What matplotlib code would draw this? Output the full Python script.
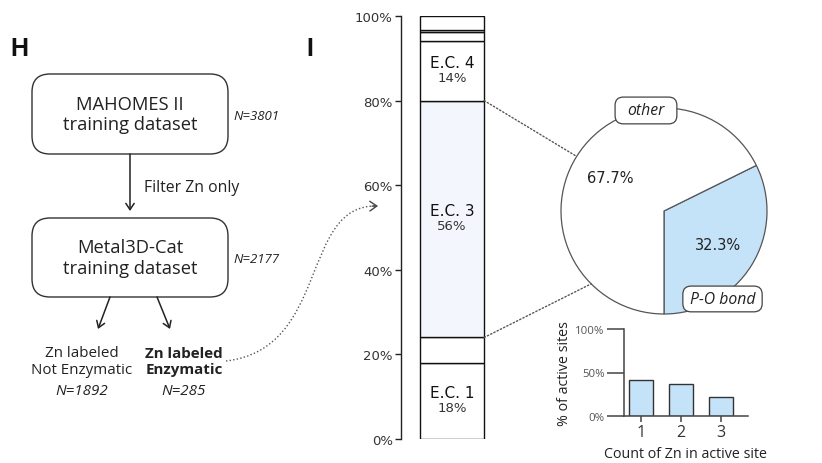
import matplotlib
matplotlib.use("Agg")
import numpy as np
import matplotlib.pyplot as plt
from matplotlib.patches import FancyBboxPatch, PathPatch, ConnectionPatch
from matplotlib.path import Path

# ---- data -------------------------------------------------------------
ec_classes = ["E.C. 1", "E.C. 2", "E.C. 3", "E.C. 4", "E.C. 5", "E.C. 6", "E.C. 7"]
ec_percent = [18, 6, 56, 14, 2.2, 0.6, 3.2]
ec_labeled = ["E.C. 1", "E.C. 3", "E.C. 4"]
pct_ticks = [0, 20, 40, 60, 80, 100]

pie_labels = ["P-O bond", "other"]
pie_values = [32.3, 67.7]

zn_counts = [1, 2, 3]
zn_site_pct = [41, 37, 22]
small_ticks = [0, 50, 100]

n_mahomes = 3801
n_metal3d = 2177
n_not_enzymatic = 1892
n_enzymatic = 285

# ---- styling ----------------------------------------------------------
W, H = 822, 464
BLUE = "#c4e2f8"
EC3_FILL = "#f3f7fd"
INK = "#222222"
SANS = ["Open Sans", "DejaVu Sans"]

fig = plt.figure(figsize=(W / 100, H / 100), dpi=100)
fig.patch.set_facecolor("white")


def px_axes(x0, y0, x1, y1):
    return fig.add_axes([x0 / W, 1 - y1 / H, (x1 - x0) / W, (y1 - y0) / H])


# overlay in pixel units for the flow diagram
ov = fig.add_axes([0, 0, 1, 1])
ov.set_xlim(0, W)
ov.set_ylim(H, 0)
ov.axis("off")

ov.text(10, 49, "H", fontsize=18, fontweight="bold", family="Liberation Sans",
        ha="left", va="center", color="#111")
ov.text(306, 49, "I", fontsize=18, fontweight="bold", family="Liberation Sans",
        ha="left", va="center", color="#111")


def flow_box(x, y, w, h, lines):
    ov.add_patch(FancyBboxPatch((x, y), w, h,
                                boxstyle="round,pad=0,rounding_size=18",
                                fc="white", ec="#333", lw=1.0))
    ov.text(x + w / 2, y + h / 2, lines, ha="center", va="center",
            fontsize=13.2, family=SANS, color=INK, linespacing=1.15)


flow_box(32, 75, 196, 80, "MAHOMES II\ntraining dataset")
flow_box(32, 219, 196, 79, "Metal3D-Cat\ntraining dataset")
ov.text(233, 116, f"N={n_mahomes}", fontsize=9.5, style="italic", family=SANS,
        ha="left", va="center", color=INK)
ov.text(233, 260, f"N={n_metal3d}", fontsize=9.5, style="italic", family=SANS,
        ha="left", va="center", color=INK)

arrow_kw = dict(arrowstyle="->,head_length=0.45,head_width=0.3", lw=1.1,
                color=INK, shrinkA=0, shrinkB=0)
ov.annotate("", xy=(130, 212), xytext=(130, 155), arrowprops=arrow_kw)
ov.text(144, 188, "Filter Zn only", fontsize=11.3, family=SANS, ha="left",
        va="center", color=INK)
ov.annotate("", xy=(98, 330), xytext=(110, 298), arrowprops=arrow_kw)
ov.annotate("", xy=(170, 330), xytext=(157, 298), arrowprops=arrow_kw)

ov.text(82, 362, "Zn labeled\nNot Enzymatic", fontsize=10.9, family=SANS,
        ha="center", va="center", color=INK, linespacing=1.12)
ov.text(82, 392, f"N={n_not_enzymatic}", fontsize=10.9, style="italic",
        family=SANS, ha="center", va="center", color=INK)
ov.text(184, 362, "Zn labeled\nEnzymatic", fontsize=10.9, fontweight="bold",
        family=SANS, ha="center", va="center", color=INK, linespacing=1.12)
ov.text(184, 392, f"N={n_enzymatic}", fontsize=10.9, style="italic",
        family=SANS, ha="center", va="center", color=INK)

# dotted S-curve from the enzymatic subset to the E.C. breakdown
curve = Path([(226, 362), (330, 350), (300, 205), (377, 207)],
             [Path.MOVETO, Path.CURVE4, Path.CURVE4, Path.CURVE4])
ov.add_patch(PathPatch(curve, fc="none", ec="#555", lw=1.0,
                       linestyle=(0, (1, 1.6))))
ov.annotate("", xy=(378, 207), xytext=(372, 207.1),
            arrowprops=dict(arrowstyle="->,head_length=0.5,head_width=0.35",
                            lw=1.0, color="#444", shrinkA=0, shrinkB=0))

# ---- stacked E.C. bar -------------------------------------------------
axb = px_axes(401, 17, 500, 440)
axb.set_xlim(0, 1)
axb.set_ylim(0, 100)
bar_x, bar_w = 0.515, 0.65
bottoms = np.concatenate([[0], np.cumsum(ec_percent)[:-1]])
for name, val, bot in zip(ec_classes, ec_percent, bottoms):
    fill = EC3_FILL if name == "E.C. 3" else "white"
    axb.bar(bar_x, val, bottom=bot, width=bar_w, color=fill,
            edgecolor="#111", linewidth=1.0)
    if name in ec_labeled:
        mid = bot + val / 2
        axb.annotate(name, (bar_x, mid), xytext=(0, 0.5), textcoords="offset points",
                     ha="center", va="bottom", fontsize=11, color="#111")
        axb.annotate(f"{val:.0f}%", (bar_x, mid), xytext=(0, 0), textcoords="offset points",
                     ha="center", va="top", fontsize=9.5, color="#333")
for s in ["top", "right", "bottom"]:
    axb.spines[s].set_visible(False)
axb.spines["left"].set_color("#222")
axb.spines["left"].set_linewidth(1.0)
axb.set_xticks([])
axb.set_yticks(pct_ticks)
axb.set_yticklabels([f"{t}%" for t in pct_ticks])
axb.tick_params(axis="y", length=4, width=1, color="#222", labelsize=9.5,
                labelcolor="#333", pad=2)
axb.patch.set_alpha(0)

# ---- pie of P-O bond share -------------------------------------------
axp = px_axes(561, 109, 767, 315)
wedges, _, autotexts = axp.pie(
    pie_values, colors=[BLUE, "white"], startangle=-90, counterclock=True,
    wedgeprops=dict(edgecolor="#555", linewidth=0.9),
    autopct="%.1f%%", pctdistance=0.62,
    textprops=dict(fontsize=10.5, color="#222"))
for w in wedges:
    w.set_clip_on(False)
axp.set_xlim(-1, 1)
axp.set_ylim(-1, 1)
axp.set_aspect("equal")


def pie_tag(text, cx, cy, w, h):
    axp.add_patch(FancyBboxPatch((cx - w / 2, cy - h / 2), w, h,
                                 boxstyle="round,pad=0,rounding_size=0.08",
                                 fc="white", ec="#444", lw=0.9, clip_on=False,
                                 zorder=5))
    axp.text(cx, cy, text, ha="center", va="center", fontsize=11.3,
             style="italic", family=SANS, color="#222", zorder=6)


pie_tag(pie_labels[1], -0.175, 0.976, 0.60, 0.26)
pie_tag(pie_labels[0], 0.568, -0.854, 0.77, 0.25)

# dotted zoom lines from the E.C. 3 segment to the pie
ec3_bot = bottoms[ec_classes.index("E.C. 3")]
ec3_top = ec3_bot + ec_percent[ec_classes.index("E.C. 3")]
for yb, ang in [(ec3_top, 148), (ec3_bot, 225)]:
    a = np.deg2rad(ang)
    con = ConnectionPatch(xyA=(bar_x + bar_w / 2, yb), coordsA=axb.transData,
                          xyB=(np.cos(a), np.sin(a)), coordsB=axp.transData,
                          color="#555", lw=1.0, linestyle=(0, (1, 1.6)))
    fig.add_artist(con)

# ---- Zn count per active site ----------------------------------------
axs = px_axes(624, 330, 748, 417)
axs.bar(zn_counts, zn_site_pct, width=0.62, color=BLUE, edgecolor="#333",
        linewidth=1.0)
axs.set_xlim(0.575, 3.675)
axs.set_ylim(0, 100)
for s in ["top", "right"]:
    axs.spines[s].set_visible(False)
for s in ["left", "bottom"]:
    axs.spines[s].set_color("#444")
    axs.spines[s].set_linewidth(1.1)
axs.set_xticks(zn_counts)
axs.set_xticklabels([str(c) for c in zn_counts], family=SANS)
axs.set_yticks(small_ticks)
axs.set_yticklabels([f"{t}%" for t in small_ticks], family=SANS)
axs.tick_params(axis="y", length=12, width=1.1, color="#444", labelsize=8.2,
                labelcolor="#555", pad=2)
axs.tick_params(axis="x", length=4, width=1.1, color="#444", labelsize=11.5,
                labelcolor="#333", pad=2)
axs.set_xlabel("Count of Zn in active site", fontsize=10.3, family=SANS,
               color="#222", labelpad=4)
axs.set_ylabel("% of active sites", fontsize=10.3, family=SANS, color="#222",
               labelpad=2)
axs.patch.set_alpha(0)

fig.savefig("out.png", dpi=100, facecolor="white")
